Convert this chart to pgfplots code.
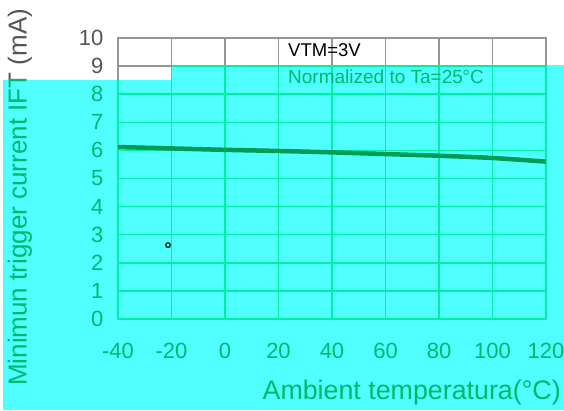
\documentclass[border=0pt]{standalone}
\usepackage{fontspec}
\setmainfont{Liberation Sans}
\usepackage{pgfplots}
\pgfplotsset{compat=1.18}
\definecolor{cyanbg}{RGB}{80,255,255}
\definecolor{mint}{RGB}{0,240,160}
\definecolor{txtgreen}{RGB}{0,185,105}
\definecolor{curvegreen}{RGB}{0,155,85}
\definecolor{gridgrey}{RGB}{150,150,150}
\definecolor{txtgrey}{RGB}{85,85,85}
\begin{document}
\begin{tikzpicture}[x=1pt,y=1pt]
% picture frame, 1pt = 1px of the reference
\path[use as bounding box] (-118,-91) rectangle (446,319);
% tinted band
\fill[cyanbg] (-115,-91) rectangle (446,239);
\fill[cyanbg] (53.5,238) rectangle (446,254);

\begin{axis}[
  at={(0,0)}, anchor=south west,
  scale only axis, width=428pt, height=281pt,
  xmin=-40, xmax=120, ymin=0, ymax=10,
  xtick={-40,-20,0,20,40,60,80,100,120},
  xticklabels={-40,-20,0,20,40,60,80,100,120},
  ytick={0,1,2,3,4,5,6,7,8,9,10},
  yticklabels={0,1,2,3,4,5,6,7,8,{\textcolor{txtgrey}{9}},{\textcolor{txtgrey}{10}}},
  grid=major,
  major grid style={mint, line width=1.5pt},
  axis line style={mint, line width=1.5pt},
  tick style={draw=none},
  ticklabel style={font=\fontsize{22}{22}\selectfont, text=txtgreen},
  xticklabel style={yshift=-21pt},
  yticklabel style={xshift=-11pt},
  clip=false,
]
\addplot[curvegreen, line width=4.5pt, smooth] coordinates {
  (-40,6.12) (-20,6.07) (0,6.02) (20,5.98) (40,5.93)
  (60,5.87) (80,5.81) (100,5.73) (120,5.60)
};
\addplot[only marks, mark=o, mark size=2.3pt, curvegreen!50!black, line width=1.6pt]
  coordinates {(-21.3,2.63)};
\end{axis}

% grey grid in the untinted strip
\draw[gridgrey, line width=1.3pt] (0,281) -- (428,281);
\draw[gridgrey, line width=1.3pt] (0,252.9) -- (53.5,252.9);
\draw[gridgrey, line width=1.3pt] (0,281) -- (0,239);
\foreach \k in {1,...,8} {
  \draw[gridgrey, line width=1.3pt] (53.5*\k,281) -- (53.5*\k,254);
}

% annotations
\node[anchor=base west, inner sep=0, font=\fontsize{18.5}{18.5}\selectfont, text=black] at (170,262) {VTM=3V};
\node[anchor=base west, inner sep=0, font=\fontsize{19}{19}\selectfont, text=txtgreen] at (170,235) {Normalized to Ta=25\kern-0.5pt°C};

% y label, grey above the band and green inside it
\begin{scope}
  \clip (-118,239) rectangle (-60,330);
  \node[rotate=90, anchor=west, inner sep=0, font=\fontsize{26}{26}\selectfont, text=txtgrey] at (-98,-67) {Minimun trigger current IFT (mA)};
\end{scope}
\begin{scope}
  \clip (-118,-91) rectangle (-60,239);
  \node[rotate=90, anchor=west, inner sep=0, font=\fontsize{26}{26}\selectfont, text=txtgreen] at (-98,-67) {Minimun trigger current IFT (mA)};
\end{scope}

% x label
\node[anchor=base east, inner sep=0, font=\fontsize{26.8}{26.8}\selectfont, text=txtgreen] at (443,-80) {Ambient temperatura(°C)};
\end{tikzpicture}
\end{document}
